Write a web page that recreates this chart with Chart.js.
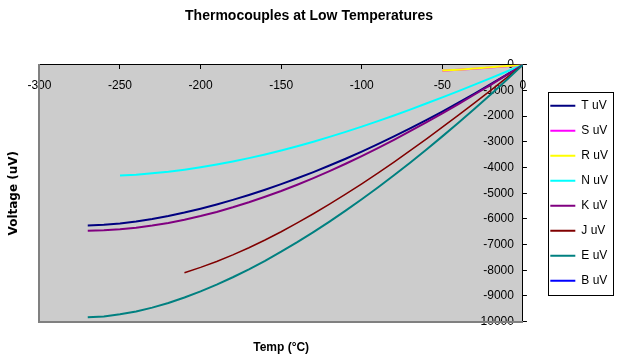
<!DOCTYPE html>
<html>
<head>
<meta charset="utf-8">
<title>Thermocouples at Low Temperatures</title>
<script src="https://cdn.jsdelivr.net/npm/chart.js@4.4.0/dist/chart.umd.min.js"></script>
<style>
  html, body { margin: 0; padding: 0; background: #ffffff; }
  #chart { display: block; }
</style>
</head>
<body>
<canvas id="chart" width="618" height="362"></canvas>
<script>
// ===============================
// Data
// ===============================
const SERIES_NAMES = ["T uV", "S uV", "R uV", "N uV", "K uV", "J uV", "E uV", "B uV"];
const SERIES_COLORS = ["#000080", "#FF00FF", "#FFFF00", "#00FFFF", "#800080", "#800000", "#008080", "#0000FF"];

// temperatures (°C) for each series
const tempsFull = [-270, -260, -250, -240, -230, -220, -210, -200, -190, -180, -170, -160, -150, -140,
  -130, -120, -110, -100, -90, -80, -70, -60, -50, -40, -30, -20, -10, 0];
const tempsN = [-250, -240, -230, -220, -210, -200, -190, -180, -170, -160, -150, -140,
  -130, -120, -110, -100, -90, -80, -70, -60, -50, -40, -30, -20, -10, 0];
const tempsJ = [-210, -200, -190, -180, -170, -160, -150, -140,
  -130, -120, -110, -100, -90, -80, -70, -60, -50, -40, -30, -20, -10, 0];
const tempsRS = [-50, -40, -30, -20, -10, 0];
const tempsB = [0];

// voltages (uV)
const voltsT = [-6258, -6232, -6180, -6105, -6007, -5888, -5753, -5603, -5439, -5261, -5070, -4865, -4648, -4419,
  -4177, -3923, -3657, -3379, -3089, -2788, -2476, -2153, -1819, -1475, -1121, -757, -383, 0];
const voltsS = [-236, -194, -150, -103, -53, 0];
const voltsR = [-226, -188, -145, -100, -51, 0];
const voltsN = [-4313, -4277, -4226, -4162, -4083, -3990, -3884, -3766, -3634, -3491, -3336, -3171,
  -2994, -2808, -2612, -2407, -2193, -1972, -1744, -1509, -1269, -1023, -772, -518, -260, 0];
const voltsK = [-6458, -6441, -6404, -6344, -6262, -6158, -6035, -5891, -5730, -5550, -5354, -5141, -4913, -4669,
  -4411, -4138, -3852, -3554, -3243, -2920, -2587, -2243, -1889, -1527, -1156, -778, -392, 0];
const voltsJ = [-8095, -7890, -7659, -7403, -7123, -6821, -6500, -6159,
  -5801, -5426, -5037, -4633, -4215, -3786, -3344, -2893, -2431, -1961, -1482, -995, -501, 0];
const voltsE = [-9835, -9797, -9718, -9604, -9455, -9274, -9063, -8825, -8561, -8273, -7963, -7632, -7279, -6907,
  -6516, -6107, -5681, -5237, -4777, -4302, -3811, -3306, -2787, -2255, -1709, -1152, -582, 0];
const voltsB = [0];

// axis ticks
const X_MIN = -300, X_MAX = 0, X_STEP = 50;
const Y_MIN = -10000, Y_MAX = 0, Y_STEP = 1000;

// -------------------------------
// Build datasets
// -------------------------------
const seriesTemps = [tempsFull, tempsRS, tempsRS, tempsN, tempsFull, tempsJ, tempsFull, tempsB];
const seriesVolts = [voltsT, voltsS, voltsR, voltsN, voltsK, voltsJ, voltsE, voltsB];
const seriesWidths = [2, 2, 2, 2, 2, 1.5, 2, 2];

const datasets = SERIES_NAMES.map((name, i) => ({
  label: name,
  data: seriesTemps[i].map((t, j) => ({ x: t, y: seriesVolts[i][j] })),
  borderColor: SERIES_COLORS[i],
  backgroundColor: SERIES_COLORS[i],
  borderWidth: seriesWidths[i],
  pointRadius: 0,
  showLine: true,
  tension: 0,
  order: -i // later series are painted on top (yellow R hides magenta S)
}));

// grey plot area behind the lines
const plotBackground = {
  id: "plotBackground",
  beforeDraw(chart) {
    const { ctx, chartArea } = chart;
    ctx.save();
    ctx.fillStyle = "#cccccc";
    ctx.fillRect(chartArea.left, chartArea.top, chartArea.right - chartArea.left, chartArea.bottom - chartArea.top);
    ctx.restore();
  }
};

// black frame round the legend, Excel style
const legendFrame = {
  id: "legendFrame",
  afterDraw(chart) {
    const boxes = chart.legend && chart.legend.legendHitBoxes;
    if (!boxes || !boxes.length) return;
    const first = boxes[0];
    const last = boxes[boxes.length - 1];
    const left = Math.min(...boxes.map(b => b.left)) - 2;
    const top = Math.min(...boxes.map(b => b.top)) - 8;
    const bottom = Math.max(...boxes.map(b => b.top + b.height)) + 8;
    const right = left + 65;
    const ctx = chart.ctx;
    ctx.save();
    ctx.strokeStyle = "#000000";
    ctx.lineWidth = 1;
    ctx.strokeRect(Math.round(left) + 0.5, Math.round(top) + 0.5, Math.round(right - left), Math.round(bottom - top));
    ctx.restore();
  }
};

const tickFont = { family: "Arial, 'Liberation Sans'", size: 12 };

new Chart(document.getElementById("chart"), {
  type: "scatter",
  data: { datasets },
  plugins: [plotBackground, legendFrame],
  options: {
    responsive: false,
    animation: false,
    layout: { padding: { left: 0, right: 0, top: 0, bottom: 0 } },
    plugins: {
      title: {
        display: true,
        text: "Thermocouples at Low Temperatures",
        color: "#000000",
        font: { family: "Arial, 'Liberation Sans'", size: 14, weight: "bold" },
        padding: { top: 8, bottom: 40 }
      },
      legend: {
        position: "right",
        fullSize: false,
        labels: {
          color: "#000000",
          font: tickFont,
          boxWidth: 25,
          boxHeight: 2,
          padding: 13,
          sort: (a, b) => a.datasetIndex - b.datasetIndex,
          generateLabels(chart) {
            const items = Chart.defaults.plugins.legend.labels.generateLabels(chart);
            return items.map(it => ({ ...it, fillStyle: it.strokeStyle, lineWidth: 0 }));
          }
        }
      },
      tooltip: { enabled: false }
    },
    scales: {
      x: {
        type: "linear",
        position: { y: 0 },
        min: X_MIN,
        max: X_MAX,
        grid: { drawOnChartArea: false, drawTicks: true, tickLength: 4, color: "#000000" },
        border: { display: true, color: "#000000", width: 1 },
        ticks: { stepSize: X_STEP, autoSkip: false, color: "#000000", font: tickFont, padding: 10, maxRotation: 0 }
      },
      y: {
        type: "linear",
        position: "right",
        min: Y_MIN,
        max: Y_MAX,
        grid: { drawOnChartArea: false, drawTicks: true, tickLength: 4, color: "#000000" },
        border: { display: true, color: "#000000", width: 1 },
        // labels sit inside the plot, left of the axis line
        ticks: {
          stepSize: Y_STEP, autoSkip: false, color: "#000000", font: tickFont,
          mirror: true, padding: -9,
          callback: v => String(v)
        },
        // empty title only keeps the gap before the legend
        title: { display: true, text: " ", font: { size: 12 }, padding: { top: 0, bottom: 14 } }
      },
      // frame axes: carry the titles and the grey plot border
      x2: {
        type: "linear",
        axis: "x",
        position: "bottom",
        min: X_MIN,
        max: X_MAX,
        grid: { display: false, drawTicks: false },
        border: { display: true, color: "#808080", width: 2 },
        ticks: { display: false },
        title: {
          display: true,
          text: "Temp (°C)",
          color: "#000000",
          font: { family: "Arial, 'Liberation Sans'", size: 12, weight: "bold" },
          padding: { top: 19, bottom: 7 }
        }
      },
      y2: {
        type: "linear",
        axis: "y",
        position: "left",
        min: Y_MIN,
        max: Y_MAX,
        grid: { display: false, drawTicks: false },
        border: { display: true, color: "#808080", width: 2 },
        ticks: { display: false },
        title: {
          display: true,
          text: "Voltage (uV)",
          color: "#000000",
          font: { family: "'DejaVu Sans', Verdana", size: 12, weight: "bold" },
          padding: { top: 7, bottom: 18 }
        }
      }
    }
  }
});
</script>
</body>
</html>
